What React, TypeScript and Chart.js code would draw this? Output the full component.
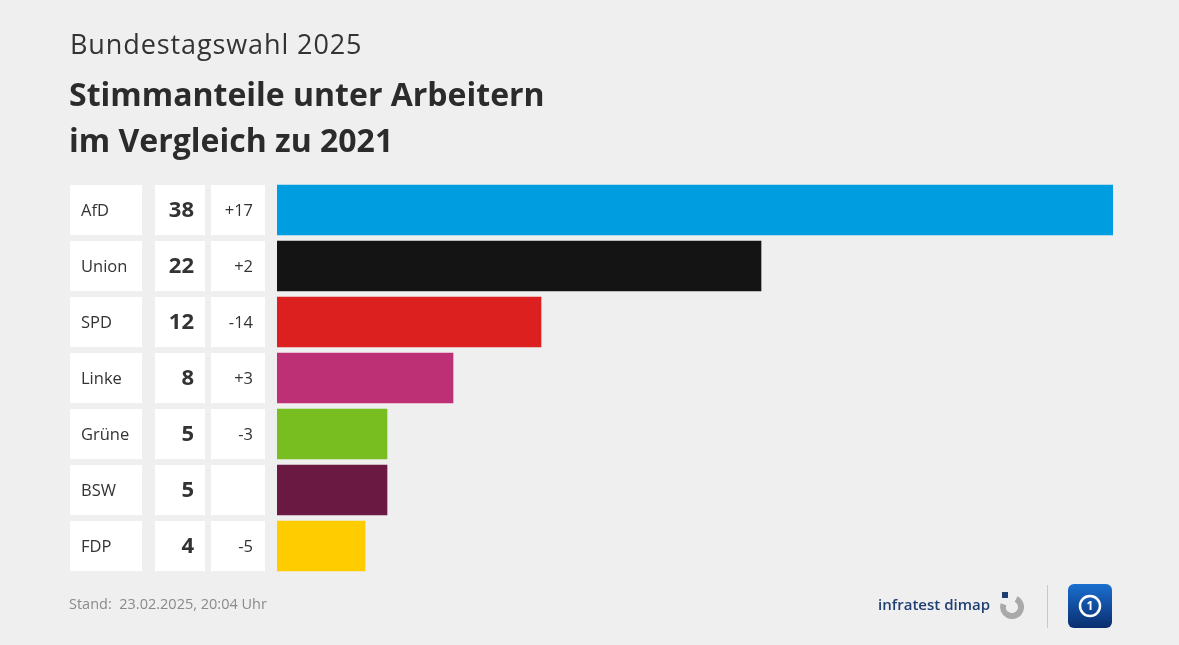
import React, { useEffect, useRef } from "react";
import { Chart, registerables } from "chart.js";

Chart.register(...registerables);

const parties = ["AfD", "Union", "SPD", "Linke", "Grüne", "BSW", "FDP"];
const shares = [38, 22, 12, 8, 5, 5, 4];
const changes = ["+17", "+2", "-14", "+3", "-3", "", "-5"];
const partyColors = ["#009ee0", "#141414", "#dc1f1f", "#be3075", "#78be20", "#6a1a42", "#ffcc00"];

const supertitle = "Bundestagswahl 2025";
const titleLines = ["Stimmanteile unter Arbeitern", "im Vergleich zu 2021"];
const footer = "Stand:  23.02.2025, 20:04 Uhr";
const FONT = '"Open Sans", "Noto Sans", sans-serif';

export default function App() {
  const ref = useRef<HTMLCanvasElement>(null);

  useEffect(() => {
    document.body.style.margin = "0";
    document.body.style.background = "#efefef";
    const canvas = ref.current!;
    const decor = {
      id: "decor",
      beforeDraw(chart: any) {
        const { ctx } = chart;
        ctx.save();
        ctx.fillStyle = "#efefef";
        ctx.fillRect(0, 0, chart.width, chart.height);
        // titles
        ctx.fillStyle = "#333333";
        ctx.textBaseline = "middle";
        ctx.textAlign = "left";
        ctx.font = `400 27px ${FONT}`;
        (ctx as any).letterSpacing = "0.9px";
        ctx.fillText(supertitle, 70, 46);
        (ctx as any).letterSpacing = "0px";
        ctx.fillStyle = "#2b2b2b";
        ctx.font = `700 32px ${FONT}`;
        ctx.fillText(titleLines[0], 69, 97);
        ctx.fillText(titleLines[1], 69, 143);
        // table cells
        const y = chart.scales.y;
        const h = 50;
        parties.forEach((p, i) => {
          const cy = y.getPixelForValue(i);
          ctx.fillStyle = "#ffffff";
          ctx.fillRect(70, cy - h / 2, 72, h);
          ctx.fillRect(155, cy - h / 2, 50, h);
          ctx.fillRect(211, cy - h / 2, 54, h);
          ctx.fillStyle = "#333333";
          ctx.textAlign = "left";
          ctx.font = `400 16.5px ${FONT}`;
          ctx.fillText(p, 81, cy + 1);
          ctx.textAlign = "right";
          ctx.font = `700 22px ${FONT}`;
          ctx.fillText(String(shares[i]), 194, cy + 1);
          ctx.font = `400 16.5px ${FONT}`;
          ctx.fillText(changes[i], 253, cy + 1);
        });
        // footer
        ctx.textAlign = "left";
        ctx.fillStyle = "#8a8a8a";
        ctx.font = `400 14.5px ${FONT}`;
        ctx.fillText(footer, 69, 605);
        // infratest dimap logo
        ctx.fillStyle = "#1f3f73";
        ctx.font = `600 15px ${FONT}`;
        ctx.textAlign = "right";
        ctx.fillText("infratest dimap", 990, 606);
        ctx.strokeStyle = "#a9a9a9";
        ctx.lineWidth = 6;
        ctx.beginPath();
        ctx.arc(1012, 607, 9, -Math.PI * 0.35, Math.PI * 1.1);
        ctx.stroke();
        ctx.fillStyle = "#1f3f73";
        ctx.fillRect(1002, 592, 6, 6);
        // separator
        ctx.strokeStyle = "#c8c8c8";
        ctx.lineWidth = 1;
        ctx.beginPath();
        ctx.moveTo(1047.5, 585);
        ctx.lineTo(1047.5, 628);
        ctx.stroke();
        // tagesschau icon
        const gx = 1068, gy = 584, gs = 44;
        const grad = ctx.createLinearGradient(gx, gy, gx, gy + gs);
        grad.addColorStop(0, "#1a6fd0");
        grad.addColorStop(1, "#0a2d6e");
        ctx.fillStyle = grad;
        ctx.beginPath();
        ctx.roundRect(gx, gy, gs, gs, 6);
        ctx.fill();
        ctx.strokeStyle = "#ffffff";
        ctx.lineWidth = 2.5;
        ctx.beginPath();
        ctx.arc(gx + gs / 2, gy + gs / 2, 10, 0, Math.PI * 2);
        ctx.stroke();
        ctx.fillStyle = "#ffffff";
        ctx.font = `700 12px ${FONT}`;
        ctx.textAlign = "center";
        ctx.fillText("1", gx + gs / 2, gy + gs / 2 + 1);
        ctx.restore();
      },
    };

    const chart = new Chart(canvas, {
      type: "bar",
      data: {
        labels: parties,
        datasets: [
          {
            data: shares,
            backgroundColor: partyColors,
            borderWidth: 0,
            barThickness: 50,
          },
        ],
      },
      options: {
        animation: false,
        responsive: false,
        indexAxis: "y",
        layout: { padding: { left: 277, right: 66, top: 182, bottom: 71 } },
        scales: {
          x: { display: false, min: 0, max: 38 },
          y: { display: false, offset: true },
        },
        plugins: {
          legend: { display: false },
          tooltip: { enabled: false },
        },
      },
      plugins: [decor],
    });
    return () => chart.destroy();
  }, []);

  return (
    <div style={{ position: "absolute", left: 0, top: 0, width: 1179, height: 645 }}>
      <canvas ref={ref} width={1179} height={645} />
    </div>
  );
}
